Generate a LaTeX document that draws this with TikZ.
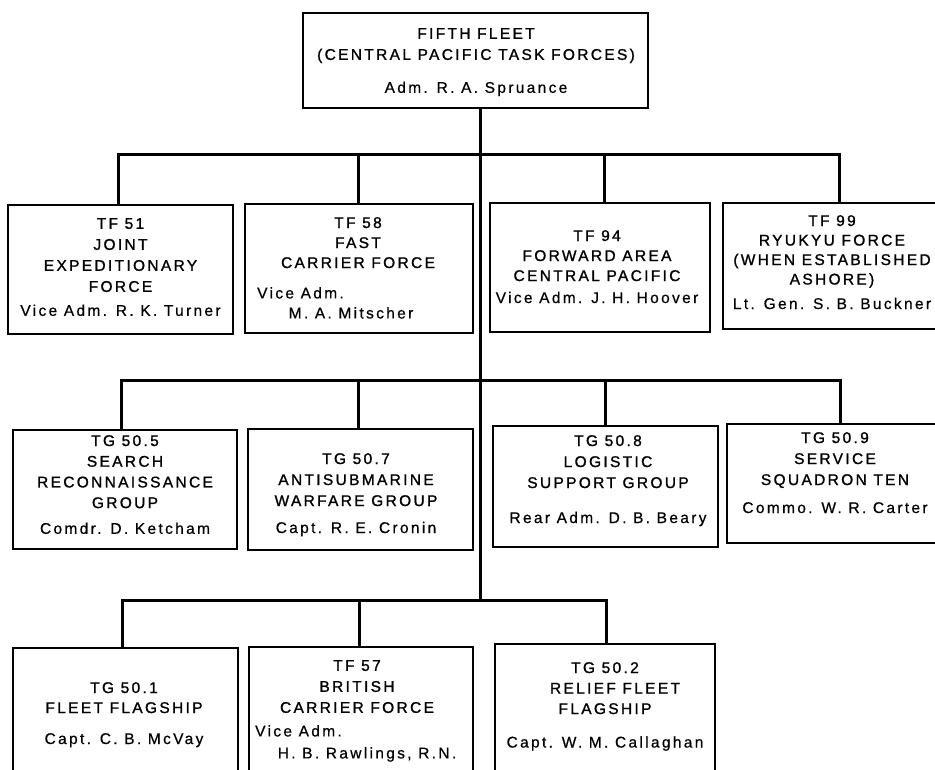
\documentclass[tikz,border=0pt]{standalone}
\usepackage{fontspec}
\setmainfont[LetterSpace=15]{Liberation Sans}
\newfontfamily\tfont[LetterSpace=15,FakeBold=1.2]{Liberation Sans}
\newfontfamily\nfont[LetterSpace=15,FakeBold=0.6]{Liberation Sans}
\begin{document}
\begin{tikzpicture}[x=1pt,y=-1pt,
  box/.style={draw, line width=1.8pt, inner sep=0pt, rectangle},
  conn/.style={line width=3pt},
  lbl/.style={inner sep=0pt, anchor=north, align=center, font={\tfont\fontsize{15.5}{21}\selectfont}},
  lbll/.style={inner sep=0pt, anchor=north west, font={\nfont\fontsize{15.5}{21}\selectfont}}]
\useasboundingbox (0,0) rectangle (935,770);
\clip (0,0) rectangle (935,770);
% boxes
\node[box, minimum width=345, minimum height=95] (ff) at (475.5,60.5) {};
\node[box, minimum width=225, minimum height=129] (tf51) at (120.5,269.5) {};
\node[box, minimum width=228, minimum height=129] (tf58) at (359,268.5) {};
\node[box, minimum width=220, minimum height=129] (tf94) at (600,267.5) {};
\node[box, minimum width=232, minimum height=126] (tf99) at (839,266) {};
\node[box, minimum width=224, minimum height=119] (tg505) at (125,489.5) {};
\node[box, minimum width=225, minimum height=121] (tg507) at (360.5,489.5) {};
\node[box, minimum width=225, minimum height=121] (tg508) at (605.5,486.5) {};
\node[box, minimum width=226, minimum height=119] (tg509) at (840,483.5) {};
\node[box, minimum width=225, minimum height=130] (tg501) at (125.5,713) {};
\node[box, minimum width=224, minimum height=131] (tf57) at (361,712.5) {};
\node[box, minimum width=220, minimum height=134] (tg502) at (605,711) {};
% texts
\node[lbl] (ffT) at (476,28) {FIFTH FLEET\\(CENTRAL PACIFIC TASK FORCES)\\[12pt]\nfont Adm. R. A. Spruance};
\node[lbl] (tf51T) at (120.5,218) {TF 51\\JOINT\\EXPEDITIONARY\\FORCE\\[3pt]\nfont Vice Adm. R. K. Turner};
\node[lbl, font={\tfont\fontsize{15.5}{20}\selectfont}] (tf58T) at (358,217) {TF 58\\FAST\\CARRIER FORCE};
\node[lbll] (tf58V) at (257,287) {Vice Adm.};
\node[lbl, font={\nfont\fontsize{15.5}{21}\selectfont}] (tf58N) at (351,307) {M. A. Mitscher};
\node[lbl, font={\tfont\fontsize{15.5}{20}\selectfont}] (tf94T) at (597,230) {TF 94\\FORWARD AREA\\CENTRAL PACIFIC\\[2pt]\nfont Vice Adm. J. H. Hoover};
\node[lbl, font={\tfont\fontsize{15.5}{19.5}\selectfont}] (tf99T) at (832,215) {TF 99\\RYUKYU FORCE\\(WHEN ESTABLISHED\\ASHORE)\\[5pt]\nfont Lt. Gen. S. B. Buckner};
\node[lbl, font={\tfont\fontsize{15.5}{20.7}\selectfont}] (tg505T) at (125,435) {TG 50.5\\SEARCH\\RECONNAISSANCE\\GROUP\\[5pt]\nfont Comdr. D. Ketcham};
\node[lbl] (tg507T) at (356,453) {TG 50.7\\ANTISUBMARINE\\WARFARE GROUP\\[6pt]\nfont Capt. R. E. Cronin};
\node[lbl] (tg508T) at (608,435) {TG 50.8\\LOGISTIC\\SUPPORT GROUP\\[14pt]\nfont Rear Adm. D. B. Beary};
\node[lbl] (tg509T) at (835,432) {TG 50.9\\SERVICE\\SQUADRON TEN\\[7pt]\nfont Commo. W. R. Carter};
\node[lbl, font={\tfont\fontsize{15.5}{20}\selectfont}] (tg501T) at (124,682) {TG 50.1\\FLEET FLAGSHIP\\[11pt]\nfont Capt. C. B. McVay};
\node[lbl] (tf57T) at (357,660) {TF 57\\BRITISH\\CARRIER FORCE};
\node[lbll] (tf57V) at (255,725) {Vice Adm.};
\node[lbl, font={\nfont\fontsize{15.5}{21}\selectfont}] (tf57N) at (367,747) {H. B. Rawlings, R.N.};
\node[lbl, font={\tfont\fontsize{15.5}{20.5}\selectfont}] (tg502T) at (605,662) {TG 50.2\\\hspace*{20pt}RELIEF FLEET\\FLAGSHIP\\[13pt]\nfont Capt. W. M. Callaghan};
% connectors
\coordinate (t3) at (480,600);
\coordinate (b1) at (0,155);
\coordinate (b2) at (0,380);
\draw[conn] (ff.south -| t3) -- (t3);
\draw[conn] ([xshift=-2.5pt]tf51.north) -- ([xshift=-2.5pt]tf51.north |- b1) -- (tf99.north |- b1) -- (tf99.north);
\draw[conn] ([xshift=-1pt]tf58.north) -- ([xshift=-1pt]tf58.north |- b1);
\draw[conn] ([xshift=4pt]tf94.north) -- ([xshift=4pt]tf94.north |- b1);
\draw[conn] ([xshift=-4pt]tg505.north) -- ([xshift=-4pt]tg505.north |- b2) -- (tg509.north |- b2) -- (tg509.north);
\draw[conn] ([xshift=-2.5pt]tg507.north) -- ([xshift=-2.5pt]tg507.north |- b2);
\draw[conn] (tg508.north) -- (tg508.north |- b2);
\draw[conn] ([xshift=-3.5pt]tg501.north) -- ([xshift=-3.5pt]tg501.north |- t3) -- ([xshift=1pt]tg502.north |- t3) -- ([xshift=1pt]tg502.north);
\draw[conn] ([xshift=-2pt]tf57.north) -- ([xshift=-2pt]tf57.north |- t3);
\end{tikzpicture}
\end{document}
